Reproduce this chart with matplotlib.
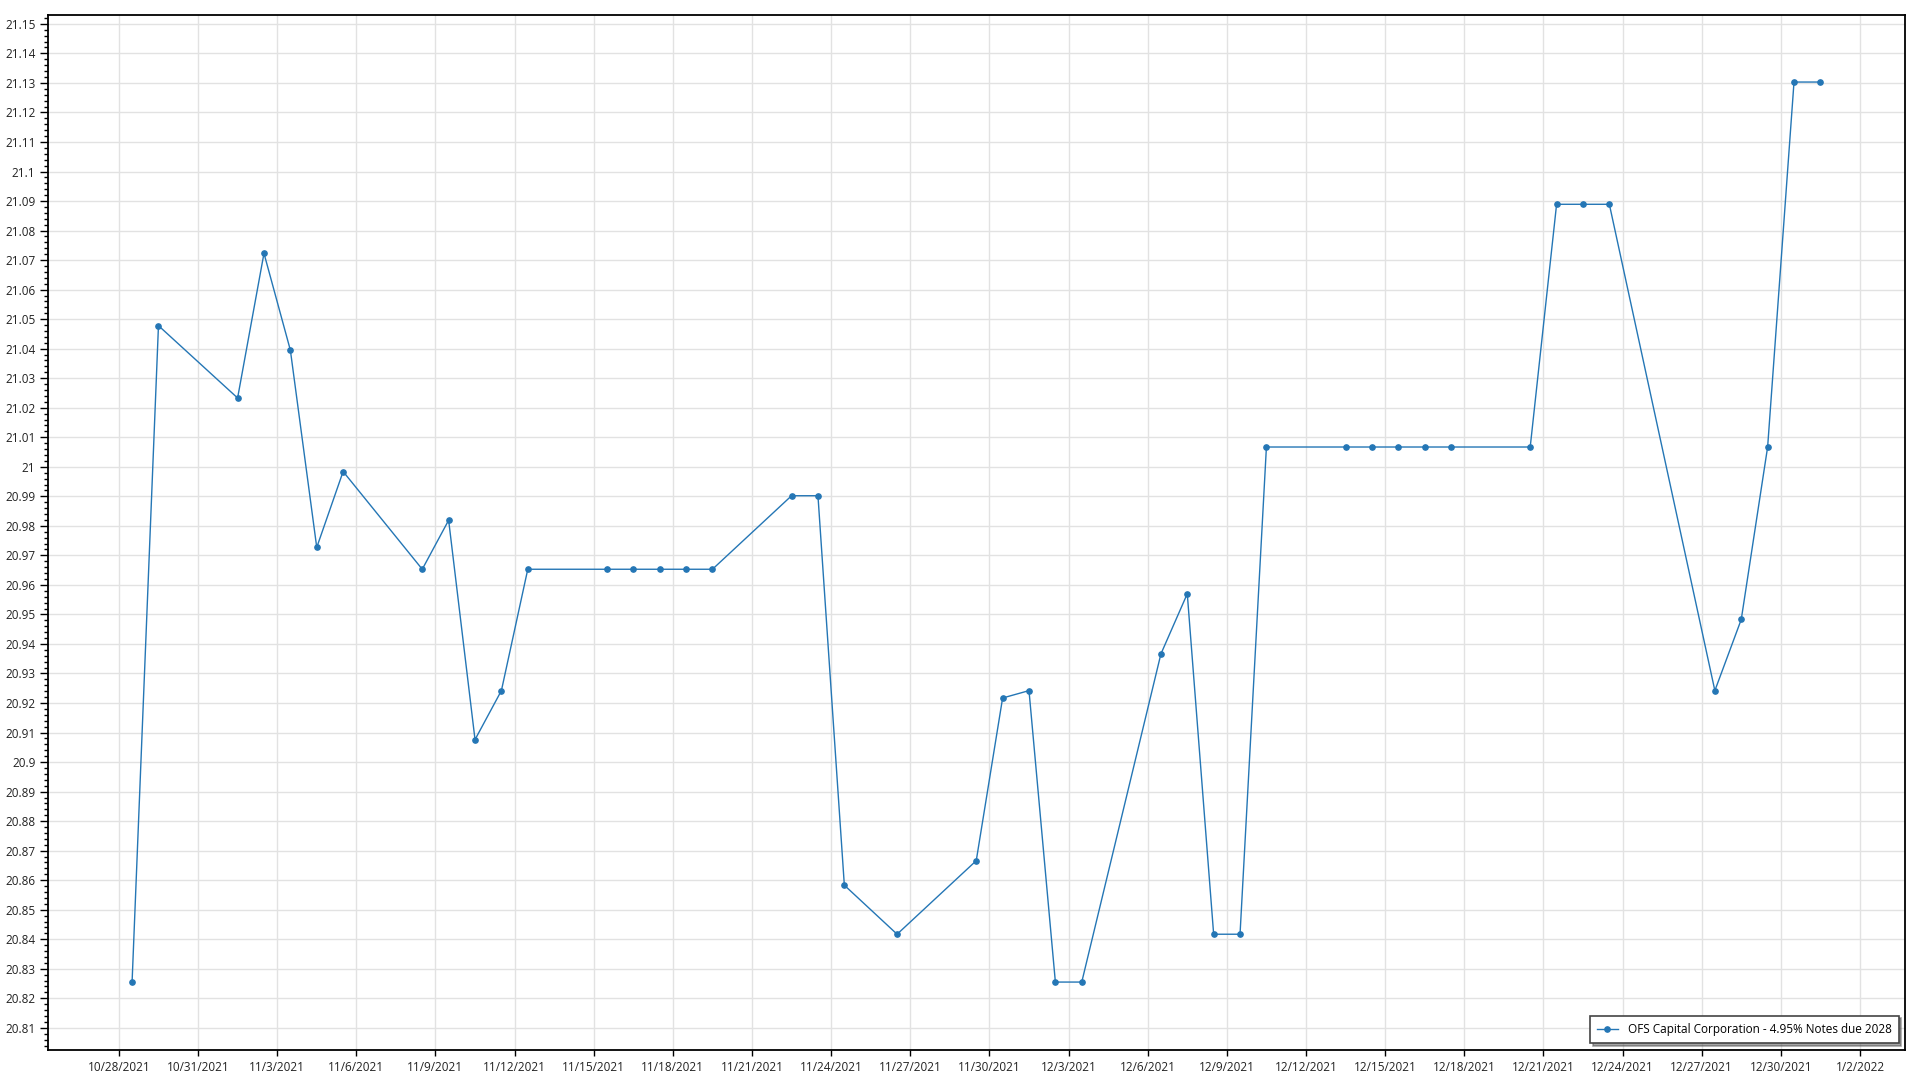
import matplotlib
matplotlib.use("Agg")
import matplotlib.pyplot as plt
import matplotlib.dates as mdates
from matplotlib.ticker import MultipleLocator, FuncFormatter, FixedLocator
import pandas as pd

plt.rcParams["font.family"] = ["Open Sans", "DejaVu Sans"]

# trading days (plotted at midday, like the original chart)
dates = [
    "2021-10-28", "2021-10-29", "2021-11-01", "2021-11-02", "2021-11-03",
    "2021-11-04", "2021-11-05", "2021-11-08", "2021-11-09", "2021-11-10",
    "2021-11-11", "2021-11-12", "2021-11-15", "2021-11-16", "2021-11-17",
    "2021-11-18", "2021-11-19", "2021-11-22", "2021-11-23", "2021-11-24",
    "2021-11-26", "2021-11-29", "2021-11-30", "2021-12-01", "2021-12-02",
    "2021-12-03", "2021-12-06", "2021-12-07", "2021-12-08", "2021-12-09",
    "2021-12-10", "2021-12-13", "2021-12-14", "2021-12-15", "2021-12-16",
    "2021-12-17", "2021-12-20", "2021-12-21", "2021-12-22", "2021-12-23",
    "2021-12-27", "2021-12-28", "2021-12-29", "2021-12-30", "2021-12-31",
]
prices = [
    20.8255, 21.0478, 21.0233, 21.0723, 21.0395,
    20.9727, 20.9984, 20.9653, 20.9819, 20.9076,
    20.9242, 20.9653, 20.9653, 20.9653, 20.9653,
    20.9653, 20.9653, 20.9902, 20.9902, 20.8583,
    20.8417, 20.8666, 20.9217, 20.9242, 20.8255,
    20.8255, 20.9366, 20.9570, 20.8417, 20.8417,
    21.0067, 21.0067, 21.0067, 21.0067, 21.0067,
    21.0067, 21.0067, 21.0889, 21.0889, 21.0889,
    20.9242, 20.9483, 21.0067, 21.1303, 21.1303,
]
series_name = "OFS Capital Corporation - 4.95% Notes due 2028"

x = pd.to_datetime(dates) + pd.Timedelta(hours=12)
tick_dates = pd.date_range("2021-10-28", "2022-01-02", freq="3D")

fig = plt.figure(figsize=(19.2, 10.8), dpi=100)
ax = fig.add_axes([0.025, 0.0278, 0.9672, 0.9583])

ax.plot(x, prices, color="#2476b5", linewidth=1.0, marker="o",
        markersize=3.8, label=series_name)

ax.set_xlim(pd.Timestamp("2021-10-25 07:30"), pd.Timestamp("2022-01-03 17:00"))
ax.set_ylim(20.8025, 21.153)

ax.xaxis.set_major_locator(FixedLocator(mdates.date2num(tick_dates)))
ax.xaxis.set_major_formatter(
    FuncFormatter(lambda v, p: "{d.month}/{d.day}/{d.year}".format(d=mdates.num2date(v))))
ax.yaxis.set_major_locator(MultipleLocator(0.01))
ax.yaxis.set_minor_locator(MultipleLocator(0.002))
ax.yaxis.set_major_formatter(
    FuncFormatter(lambda v, p: f"{v:.2f}".rstrip("0").rstrip(".")))

ax.grid(True, which="major", color="#e2e2e2", linewidth=1.0)
ax.set_axisbelow(True)
ax.tick_params(axis="both", which="major", labelsize=8.5, colors="black",
               labelcolor="#222222", width=1)
ax.tick_params(axis="y", which="major", length=6, pad=3)
ax.tick_params(axis="y", which="minor", length=3, width=1)
ax.tick_params(axis="x", which="major", length=4, pad=4)
for s in ax.spines.values():
    s.set_linewidth(1.3)
    s.set_color("black")

leg = ax.legend(loc="lower right", fontsize=8.5, fancybox=False, shadow=True,
                framealpha=1, edgecolor="#444444", borderpad=0.6,
                handlelength=1.8, borderaxespad=0,
                bbox_to_anchor=(0.9965, 0.007))
leg.get_frame().set_linewidth(1.2)

fig.savefig("out.png", dpi=100)
